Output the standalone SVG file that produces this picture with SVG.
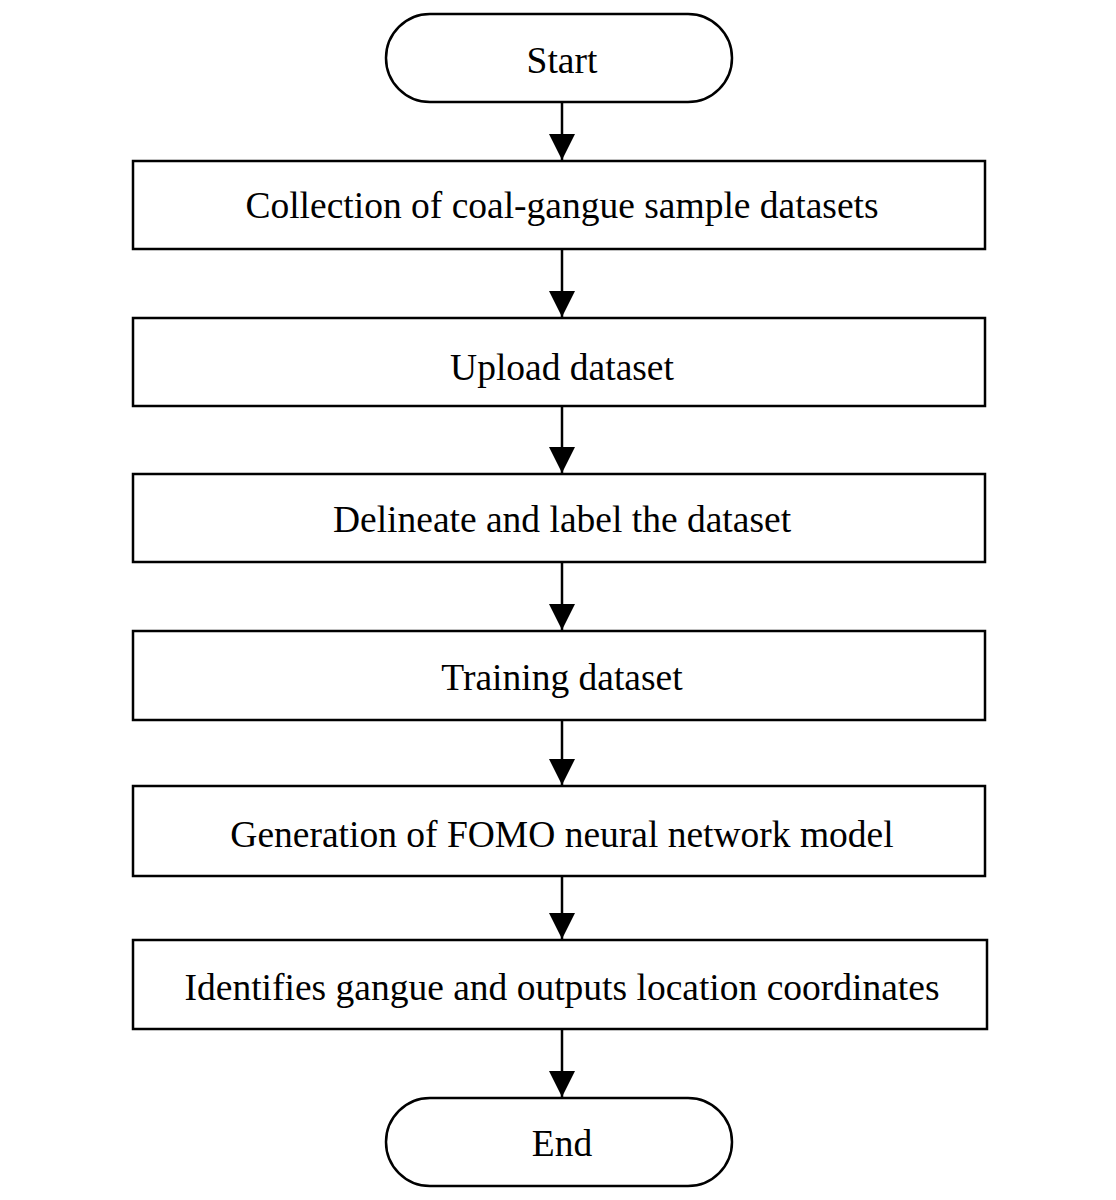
<svg xmlns="http://www.w3.org/2000/svg" width="1116" height="1200" viewBox="0 0 1116 1200">
<defs><marker id="a" markerWidth="26" markerHeight="28" refX="26" refY="13" orient="auto" markerUnits="userSpaceOnUse" viewBox="0 0 26 26"><path d="M0,0L26,13L0,26z" fill="#000"/></marker></defs>
<style>.n{fill:#fff;stroke:#000;stroke-width:2.5}.t{font-family:"Liberation Serif",serif;font-size:37.5px;text-anchor:middle;dominant-baseline:central}.c{stroke:#000;stroke-width:2.5;fill:none}</style>
<rect width="1116" height="1200" fill="#fff"/>
<g id="start"><rect class="n" x="386" y="14" width="346" height="88" rx="44"/><text class="t" x="562" y="60">Start</text></g>
<g id="n1"><rect class="n" x="133" y="161" width="852" height="88"/><text class="t" x="562" y="205">Collection of coal-gangue sample datasets</text></g>
<g id="n2"><rect class="n" x="133" y="318" width="852" height="88"/><text class="t" x="562" y="367">Upload dataset</text></g>
<g id="n3"><rect class="n" x="133" y="474" width="852" height="88"/><text class="t" x="562" y="519">Delineate and label the dataset</text></g>
<g id="n4"><rect class="n" x="133" y="631" width="852" height="89"/><text class="t" x="562" y="677">Training dataset</text></g>
<g id="n5"><rect class="n" x="133" y="786" width="852" height="90"/><text class="t" x="562" y="834">Generation of FOMO neural network model</text></g>
<g id="n6"><rect class="n" x="133" y="940" width="854" height="89"/><text class="t" x="562" y="987">Identifies gangue and outputs location coordinates</text></g>
<g id="end"><rect class="n" x="386" y="1098" width="346" height="88" rx="44"/><text class="t" x="562" y="1143">End</text></g>
<g id="connectors">
<path class="c" d="M562,102V160" marker-end="url(#a)"/>
<path class="c" d="M562,249V317" marker-end="url(#a)"/>
<path class="c" d="M562,406V473" marker-end="url(#a)"/>
<path class="c" d="M562,562V630" marker-end="url(#a)"/>
<path class="c" d="M562,720V785" marker-end="url(#a)"/>
<path class="c" d="M562,876V939" marker-end="url(#a)"/>
<path class="c" d="M562,1029V1097" marker-end="url(#a)"/>
</g>
</svg>
